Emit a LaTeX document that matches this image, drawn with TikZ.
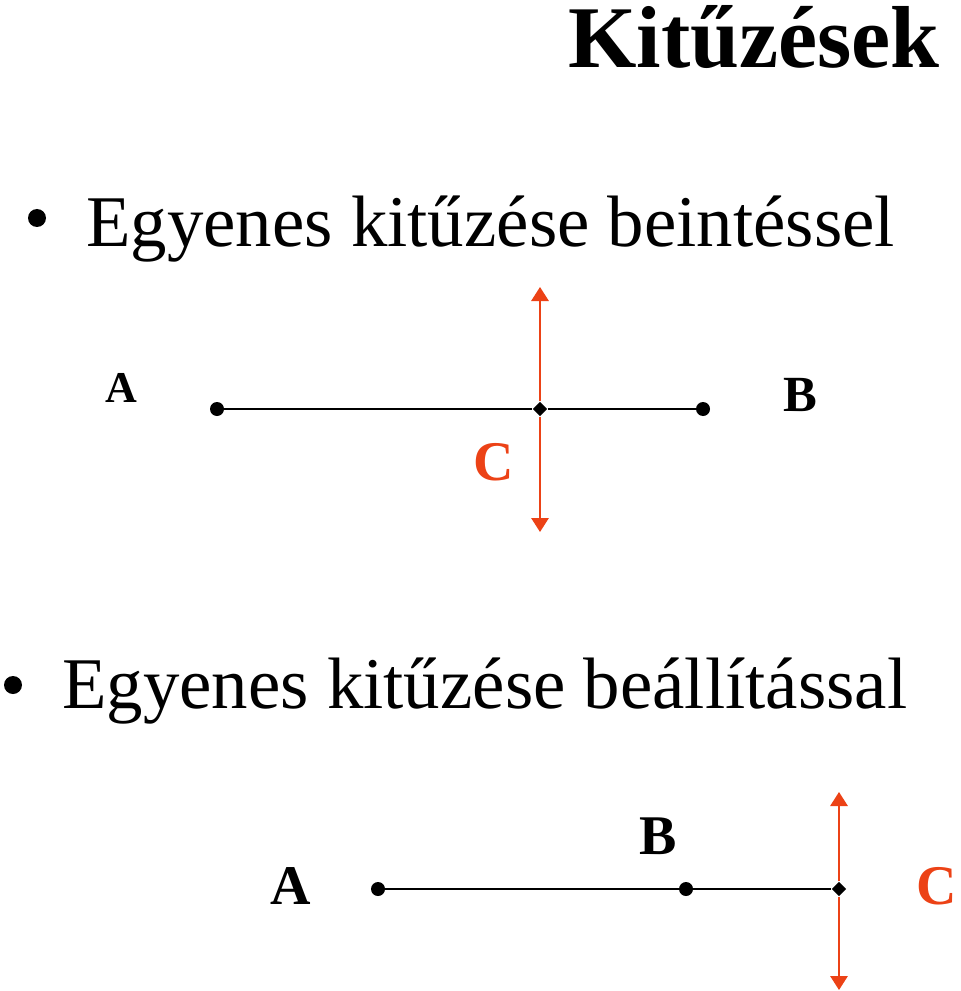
\documentclass[tikz,border=0pt]{standalone}
\usepackage{fontspec}
\setmainfont{Liberation Serif}
\usetikzlibrary{arrows.meta,shapes.geometric}
\definecolor{jelred}{RGB}{236,66,22}
\tikzset{
	dot/.style={circle,fill=black,inner sep=0pt,minimum size=10.5pt},
	mark point/.style={diamond,fill=black,inner sep=0pt,minimum width=11pt,minimum height=11pt},
	seg/.style={line width=1.6pt},
	plumb/.style={jelred,line width=1.5pt},
	tip/.style={-{Triangle[width=13pt,length=10.5pt]}},
	lbl/.style={inner sep=0pt,anchor=base,font=\bfseries\fontsize{#1}{#1}\selectfont},
	txt/.style={inner sep=0pt,anchor=base west,font=\fontsize{54.6pt}{60pt}\selectfont}
}
\begin{document}
\begin{tikzpicture}[x=0.75pt,y=-0.75pt]
				\useasboundingbox (0,0) rectangle (960,991);
				
				\node[inner sep=0pt,anchor=base east,font=\bfseries\fontsize{66pt}{70pt}\selectfont] (title) at (940,68) {Kitűzések};
				
				% first bullet: beintés
				\fill (37,218) circle (9);
				\node[txt] (line1) at (86,247) {Egyenes kitűzése beintéssel};
				
				\node[dot] (a1) at (217,409) {};
				\node[dot] (b1) at (703,409) {};
				\node[mark point] (c1) at (540,409) {};
				\coordinate (c1top) at (540,287);
				\coordinate (c1bot) at (540,532);
				\draw[seg] (a1) -- (c1);
				\draw[seg] (c1) -- (b1);
				\draw[plumb,tip] (c1) -- (c1top);
				\draw[plumb,tip] (c1) -- (c1bot);
				
				\node[lbl=33pt] (la1) at (121,402) {A};
				\node[lbl=38pt] (lb1) at (800,411) {B};
				\node[lbl=42pt,text=jelred] (lc1) at (494,480) {C};
				
				% second bullet: beállítás
				\fill (13,685) circle (9);
				\node[txt] (line2) at (62,708) {Egyenes kitűzése beállítással};
				
				\node[dot] (a2) at (378,889) {};
				\node[dot] (b2) at (686,889) {};
				\node[mark point] (c2) at (839,889) {};
				\coordinate (c2top) at (839,792);
				\coordinate (c2bot) at (839,990);
				\draw[seg] (a2) -- (b2);
				\draw[seg] (b2) -- (c2);
				\draw[plumb,tip] (c2) -- (c2top);
				\draw[plumb,tip] (c2) -- (c2bot);
				
				\node[lbl=42pt] (la2) at (291,904) {A};
				\node[lbl=42pt] (lb2) at (658,854) {B};
				\node[lbl=42pt,text=jelred] (lc2) at (937,904) {C};
			\end{tikzpicture}
\end{document}
